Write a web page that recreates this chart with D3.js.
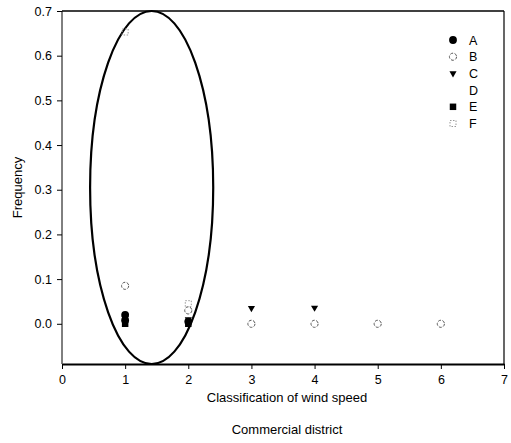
<!DOCTYPE html>
<html>
<head>
<meta charset="utf-8">
<script src="https://cdn.jsdelivr.net/npm/d3@7"></script>
<style>
  body { margin: 0; background: #fff; }
  svg { display: block; font-family: "Liberation Sans", Arial, sans-serif; }
  .axis text { font-size: 12.5px; fill: #000; }
  .axis path, .axis line { stroke: #000; }
</style>
</head>
<body>
<script>
var xTicks = [0, 1, 2, 3, 4, 5, 6, 7];
var yTicks = [0.0, 0.1, 0.2, 0.3, 0.4, 0.5, 0.6, 0.7];
var seriesNames = ['A', 'B', 'C', 'D', 'E', 'F'];

var seriesA = [{x: 1, y: 0.02}, {x: 1, y: 0.008}, {x: 2, y: 0.005}];
var seriesB = [{x: 1, y: 0.085}, {x: 2, y: 0.03}, {x: 3, y: 0.0}, {x: 4, y: 0.0}, {x: 5, y: 0.0}, {x: 6, y: 0.0}];
var seriesC = [{x: 1, y: 0.012}, {x: 2, y: 0.01}, {x: 3, y: 0.035}, {x: 4, y: 0.036}];
var seriesD = [];
var seriesE = [{x: 1, y: 0.0}, {x: 2, y: 0.0}];
var seriesF = [{x: 1, y: 0.653}, {x: 2, y: 0.045}];

// ellipse around the class-1/2 points, in data units
var ring = {cx: 1.42, cy: 0.305, rx: 0.975, ry: 0.395};

const WIDTH = 511;
const HEIGHT = 443;

var xScale = d3.scaleLinear().domain([0, 7]).range([62, 504]);
var yScale = d3.scaleLinear().domain([-0.09, 0.7]).range([364, 11]);

var translate = function(x, y) {
  return 'translate(' + x + ',' + y + ')';
};

var symbolFor = {
  A: {type: d3.symbolCircle, size: 48, fill: '#000', stroke: 'none', rot: 0},
  B: {type: d3.symbolCircle, size: 40, fill: 'none', stroke: '#555', dash: '3,1.5', rot: 0},
  C: {type: d3.symbolTriangle, size: 22, fill: '#000', stroke: 'none', rot: 180},
  D: null,
  E: {type: d3.symbolSquare, size: 42, fill: '#000', stroke: 'none', rot: 0},
  F: {type: d3.symbolSquare, size: 36, fill: 'none', stroke: '#999', dash: '1.5,1.5', rot: 0}
};

var seriesData = {A: seriesA, B: seriesB, C: seriesC, D: seriesD, E: seriesE, F: seriesF};

var drawChart = function() {
  var svg = d3.select('body').append('svg')
    .attr('width', WIDTH)
    .attr('height', HEIGHT);

  // frame: top and right
  svg.append('line')
    .attr('x1', xScale(0)).attr('x2', xScale(7))
    .attr('y1', yScale(0.7)).attr('y2', yScale(0.7))
    .attr('stroke', '#000').attr('stroke-width', 1.6);
  svg.append('line')
    .attr('x1', xScale(7)).attr('x2', xScale(7))
    .attr('y1', yScale(0.7)).attr('y2', yScale(-0.09))
    .attr('stroke', '#000').attr('stroke-width', 1.2);

  var xAxis = d3.axisBottom(xScale).tickValues(xTicks).tickFormat(d3.format('d'))
    .tickSizeInner(5).tickSizeOuter(0).tickPadding(6);
  var yAxis = d3.axisLeft(yScale).tickValues(yTicks).tickFormat(d3.format('.1f'))
    .tickSizeInner(5).tickSizeOuter(0).tickPadding(5);

  svg.append('g')
    .attr('class', 'axis')
    .attr('transform', translate(0, yScale(-0.09)))
    .call(xAxis)
    .call(function(g) { g.select('.domain').attr('stroke-width', 1.8); });

  svg.append('g')
    .attr('class', 'axis')
    .attr('transform', translate(xScale(0), 0))
    .call(yAxis)
    .call(function(g) {
      g.select('.domain').attr('d', 'M0,' + yScale(0.7) + 'V' + yScale(-0.09)).attr('stroke-width', 1);
    });

  svg.append('text')
    .attr('x', (xScale(0) + xScale(7)) / 2 + 4)
    .attr('y', 402)
    .attr('text-anchor', 'middle')
    .style('font-size', '13px')
    .text('Classification of wind speed');

  svg.append('text')
    .attr('x', (xScale(0) + xScale(7)) / 2 + 4)
    .attr('y', 434)
    .attr('text-anchor', 'middle')
    .style('font-size', '13px')
    .text('Commercial district');

  svg.append('text')
    .attr('transform', translate(22, (yScale(0.7) + yScale(-0.09)) / 2) + ' rotate(-90)')
    .attr('text-anchor', 'middle')
    .style('font-size', '13px')
    .text('Frequency');

  // ellipse
  svg.append('ellipse')
    .attr('cx', xScale(ring.cx))
    .attr('cy', yScale(ring.cy))
    .attr('rx', xScale(ring.cx + ring.rx) - xScale(ring.cx))
    .attr('ry', yScale(ring.cy - ring.ry) - yScale(ring.cy))
    .attr('fill', 'none')
    .attr('stroke', '#000')
    .attr('stroke-width', 2.2);
};

var drawSymbol = function(sel, name) {
  var s = symbolFor[name];
  if (!s) return;
  sel.append('path')
    .attr('d', d3.symbol().type(s.type).size(s.size)())
    .attr('fill', s.fill)
    .attr('stroke', s.stroke)
    .attr('stroke-width', 1)
    .attr('stroke-dasharray', s.dash || null)
    .attr('transform', function() { return d3.select(this.parentNode).attr('data-pos') + ' rotate(' + s.rot + ')'; });
};

var drawPoints = function() {
  var svg = d3.select('svg');
  seriesNames.forEach(function(name) {
    var g = svg.append('g').attr('class', 'series-' + name);
    g.selectAll('g')
      .data(seriesData[name])
      .enter()
      .append('g')
      .attr('data-pos', function(d) { return translate(xScale(d.x), yScale(d.y)); })
      .each(function() { drawSymbol(d3.select(this), name); });
  });
};

var drawLegend = function() {
  var legend = d3.select('svg').append('g')
    .attr('transform', translate(453, 40));
  var rows = legend.selectAll('g')
    .data(seriesNames)
    .enter()
    .append('g')
    .attr('data-pos', function(d, i) { return translate(0, i * 16.7); });
  rows.each(function(name) { drawSymbol(d3.select(this), name); });
  rows.append('text')
    .attr('x', 16)
    .attr('y', function(d, i) { return i * 16.7 + 4.5; })
    .style('font-size', '12.5px')
    .text(function(d) { return d; });
};

var renderChart = function() {
  drawChart();
  drawPoints();
  drawLegend();
};

window.onload = renderChart;
</script>
</body>
</html>
